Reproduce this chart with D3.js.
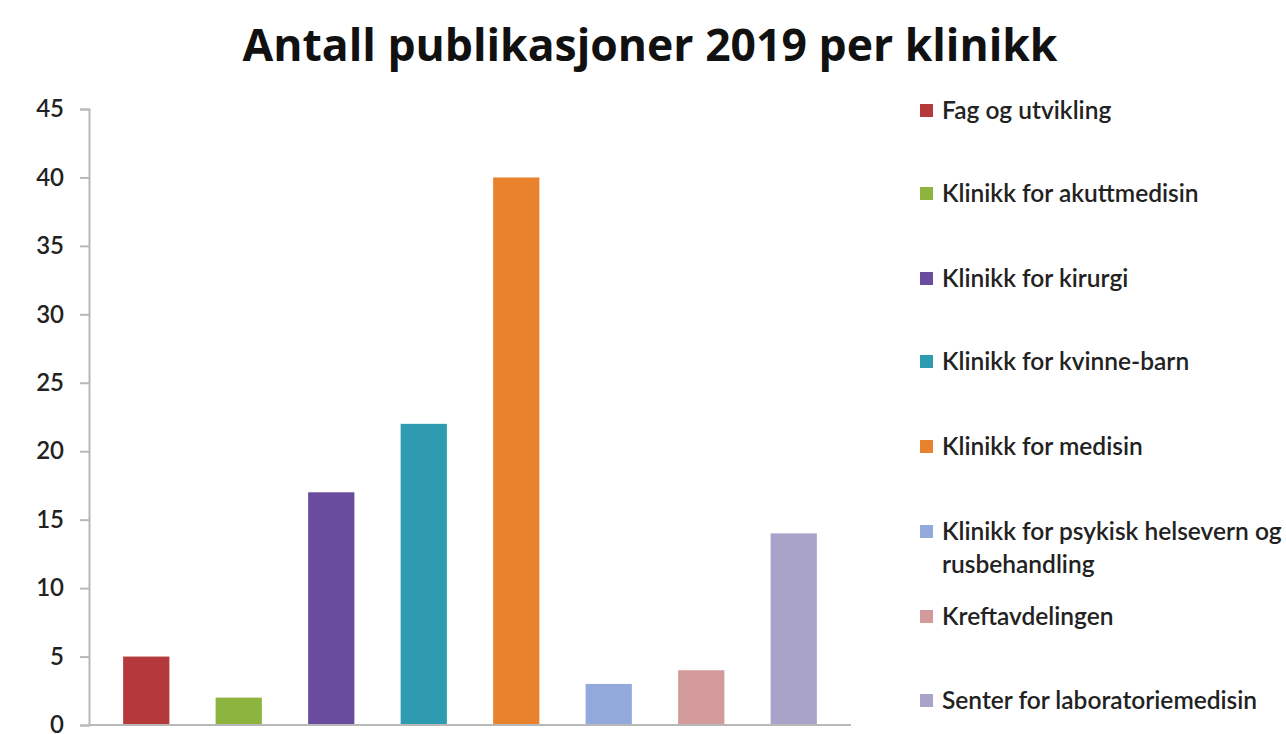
<!DOCTYPE html>
<html><head><meta charset="utf-8">
<script src="https://cdn.jsdelivr.net/npm/d3@7"></script>
<style>body{margin:0;background:#fff}svg{display:block}</style>
</head><body>
<svg id="c" width="1286" height="734"></svg>
<script>
const categories = ["Fag og utvikling","Klinikk for akuttmedisin","Klinikk for kirurgi","Klinikk for kvinne-barn","Klinikk for medisin","Klinikk for psykisk helsevern og rusbehandling","Kreftavdelingen","Senter for laboratoriemedisin"];
const values = [5, 2, 17, 22, 40, 3, 4, 14];
const colors = ["#b5393a","#8db43f","#6a4c9e","#2e9bb1","#e8822c","#92aadb","#d29a9b","#a9a3c9"];
const yTicks = [0,5,10,15,20,25,30,35,40,45];
const legendLines = [["Fag og utvikling"],["Klinikk for akuttmedisin"],["Klinikk for kirurgi"],["Klinikk for kvinne-barn"],["Klinikk for medisin"],["Klinikk for psykisk helsevern og","rusbehandling"],["Kreftavdelingen"],["Senter for laboratoriemedisin"]];
const legendY = [110,193,278,361,446,531,616,700];

const svg = d3.select("#c");
const font = "Lato, 'Open Sans', sans-serif";

svg.append("text").attr("x",650).attr("y",61).attr("text-anchor","middle")
  .attr("font-family","'Open Sans', sans-serif").attr("font-weight","bold").attr("font-size",44.5)
  .attr("fill","#111").text("Antall publikasjoner 2019 per klinikk");

const y = d3.scaleLinear().domain([0,45]).range([725,109]);
const x = d3.scaleBand().domain(categories).range([100,840]).paddingInner(0.5).paddingOuter(0.25);

const yAxis = svg.append("g").attr("transform","translate(89,0)")
  .call(d3.axisLeft(y).tickValues(yTicks).tickSize(9).tickPadding(16));
yAxis.select(".domain").attr("stroke","#b8b8b8").attr("stroke-width",2);
yAxis.selectAll(".tick line").attr("stroke","#b8b8b8").attr("stroke-width",2);
yAxis.selectAll(".tick text").attr("font-family",font).attr("font-size",24).attr("font-weight",600).attr("fill","#222");

svg.append("g").selectAll("rect").data(values).join("rect")
  .attr("x",(d,i)=>x(categories[i])).attr("width",x.bandwidth())
  .attr("y",d=>y(d)).attr("height",d=>y(0)-y(d))
  .attr("fill",(d,i)=>colors[i]);

svg.append("line").attr("x1",89).attr("x2",851).attr("y1",y(0)).attr("y2",y(0))
  .attr("stroke","#b8b8b8").attr("stroke-width",2);

const lg = svg.append("g").selectAll("g").data(categories).join("g")
  .attr("transform",(d,i)=>`translate(920,${legendY[i]})`);
lg.append("rect").attr("x",0).attr("y",-6).attr("width",13).attr("height",13).attr("fill",(d,i)=>colors[i]);
lg.append("text").attr("font-family",font).attr("font-size",24.5).attr("font-weight",600).attr("fill","#222")
  .selectAll("tspan").data((d,i)=>legendLines[i]).join("tspan")
  .attr("x",22).attr("dy",(d,j)=>j===0?"0.35em":"33px").text(d=>d);
</script>
</body></html>
